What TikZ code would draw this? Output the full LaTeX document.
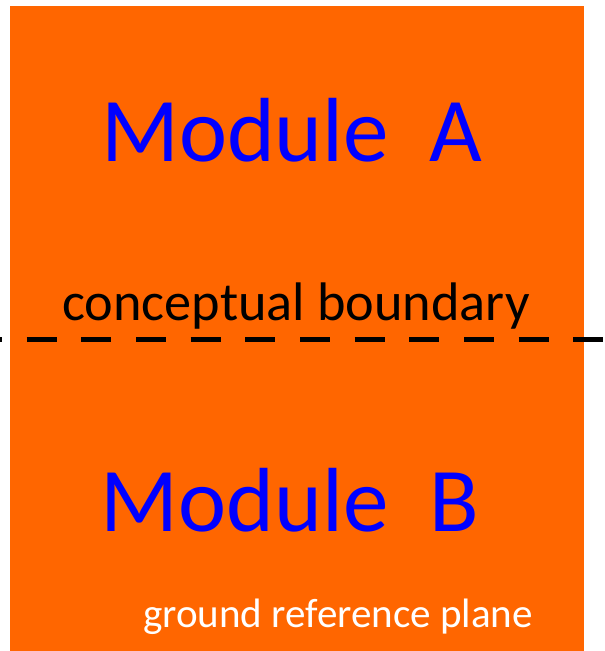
\documentclass[tikz,border=0pt]{standalone}
\usepackage{fontspec}
\setmainfont{Carlito}
\usepackage{tikz}
\usetikzlibrary{positioning}
\usepackage{xcolor}
\definecolor{modorange}{HTML}{FF6600}
\definecolor{modblue}{HTML}{0000FF}
\tikzset{
  module/.style={text=modblue, inner sep=0pt, anchor=base, font=\fontsize{68.3}{80}\selectfont},
  boundarytext/.style={text=black, inner sep=0pt, anchor=base, font=\fontsize{40.7}{48}\selectfont},
  planetext/.style={text=white, inner sep=0pt, anchor=base, font=\fontsize{30.8}{36}\selectfont},
  boundaryline/.style={line width=3.75pt, dash pattern=on 22.5pt off 18.5pt, dash phase=21pt}
}
\begin{document}
\begin{tikzpicture}[x=0.75pt,y=-0.75pt]
\useasboundingbox (0,0) rectangle (605,651);
\fill[modorange] (10,6) rectangle (584,651);
\node[module] (modA) at (292,161) {Module\hspace{0.45em}A};
\node[boundarytext] (bound) at (296,320) {conceptual boundary};
\coordinate (lineL) at (0,339);
\coordinate (lineR) at (605,339);
\draw[boundaryline] (lineL) -- (lineR);
\node[module] (modB) at (290,531) {Module\hspace{0.45em}B};
\node[planetext] (plane) at (338,627) {ground reference plane};
\end{tikzpicture}
\end{document}
